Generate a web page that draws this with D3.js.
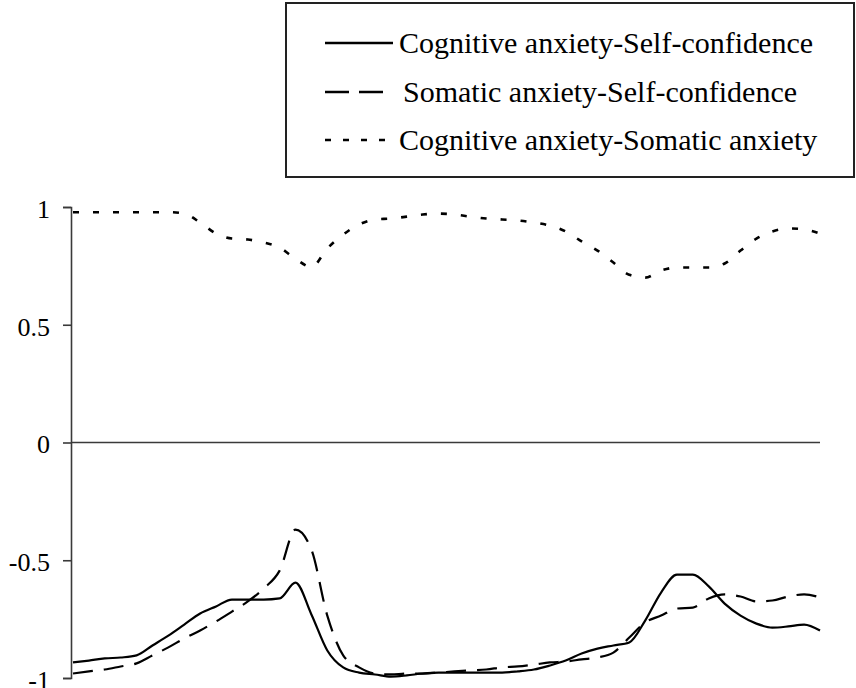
<!DOCTYPE html>
<html>
<head>
<meta charset="utf-8">
<script src="https://cdn.jsdelivr.net/npm/d3@7"></script>
<style>
  html, body { margin: 0; padding: 0; background: #fff; }
  svg { display: block; }
  svg text { font-family: "Liberation Serif", "Times New Roman", Tinos, "DejaVu Serif", serif; }
</style>
</head>
<body>
<svg id="chart" width="856" height="688"></svg>
<script>
// ---------- data ----------
const seriesNames = [
  "Cognitive anxiety-Self-confidence",
  "Somatic anxiety-Self-confidence",
  "Cognitive anxiety-Somatic anxiety"
];
const yTicks = [-1, -0.5, 0, 0.5, 1];
const yTickLabels = ["-1", "-0.5", "0", "0.5", "1"];

const cogSelf = [
  -0.934, -0.926, -0.917, -0.913, -0.904, -0.862, -0.820, -0.773, -0.726, -0.696,
  -0.667, -0.667, -0.667, -0.662, -0.595, -0.730, -0.883, -0.955, -0.977, -0.985,
  -0.994, -0.989, -0.981, -0.977, -0.977, -0.977, -0.977, -0.977, -0.972, -0.964,
  -0.947, -0.926, -0.896, -0.875, -0.862, -0.849, -0.756, -0.637, -0.561, -0.561,
  -0.611, -0.684, -0.735, -0.769, -0.786, -0.781, -0.773, -0.798
];
const somSelf = [
  -0.981, -0.972, -0.964, -0.951, -0.938, -0.904, -0.870, -0.832, -0.798, -0.760,
  -0.718, -0.675, -0.620, -0.544, -0.370, -0.455, -0.735, -0.904, -0.955, -0.981,
  -0.985, -0.981, -0.981, -0.977, -0.972, -0.968, -0.964, -0.955, -0.951, -0.943,
  -0.934, -0.930, -0.921, -0.913, -0.892, -0.828, -0.764, -0.735, -0.705, -0.701,
  -0.662, -0.645, -0.654, -0.675, -0.671, -0.654, -0.645, -0.658
];
const cogSom = [
  0.978, 0.978, 0.978, 0.978, 0.978, 0.978, 0.978, 0.972, 0.934, 0.887,
  0.866, 0.862, 0.849, 0.828, 0.780, 0.745, 0.824, 0.883, 0.926, 0.947,
  0.951, 0.959, 0.968, 0.972, 0.968, 0.959, 0.951, 0.947, 0.943, 0.934,
  0.921, 0.896, 0.854, 0.815, 0.764, 0.712, 0.700, 0.730, 0.743, 0.743,
  0.743, 0.760, 0.815, 0.866, 0.896, 0.909, 0.905, 0.887
];

// ---------- layout ----------
const svg = d3.select("#chart");
const plot = { left: 71, right: 820, top: 207, bottom: 678 };
const serif = '"Liberation Serif", "Times New Roman", Tinos, "DejaVu Serif", serif';

const x = d3.scaleLinear().domain([0, cogSelf.length - 1]).range([plot.left + 2, plot.right]);
const y = d3.scaleLinear().domain([-1, 1]).range([plot.bottom, plot.top]);

// zero line
svg.append("line")
  .attr("x1", plot.left).attr("x2", plot.right)
  .attr("y1", y(0)).attr("y2", y(0))
  .attr("stroke", "#3a3a3a").attr("stroke-width", 1.6);

// y axis
const yAxis = d3.axisLeft(y)
  .tickValues(yTicks)
  .tickFormat((d, i) => yTickLabels[i])
  .tickSize(8)
  .tickPadding(13);
const gy = svg.append("g")
  .attr("transform", `translate(${plot.left},0)`)
  .call(yAxis);
gy.attr("font-family", null);
gy.select(".domain").attr("stroke", "#3a3a3a").attr("stroke-width", 1.6);
gy.selectAll(".tick line").attr("stroke", "#3a3a3a").attr("stroke-width", 1.6);
gy.selectAll(".tick text")
  .style("font-family", serif)
  .style("font-size", "26px")
  .attr("fill", "#000")
  .attr("dy", "0.4em");

// lines
const line = d3.line()
  .x((d, i) => x(i))
  .y(d => y(d))
  .curve(d3.curveMonotoneX);

const styles = [
  { data: cogSelf, dash: null, width: 2.2 },
  { data: somSelf, dash: "20,11", width: 2.2 },
  { data: cogSom, dash: "6,14", width: 2.6 }
];

styles.forEach(s => {
  svg.append("path")
    .datum(s.data)
    .attr("d", line)
    .attr("fill", "none")
    .attr("stroke", "#000")
    .attr("stroke-width", s.width)
    .attr("stroke-dasharray", s.dash);
});

// legend
const lg = svg.append("g");
lg.append("rect")
  .attr("x", 286).attr("y", 3)
  .attr("width", 568).attr("height", 174)
  .attr("fill", "#fff")
  .attr("stroke", "#222").attr("stroke-width", 2);

const legendItems = [
  { name: seriesNames[0], dash: null, width: 2.4, y: 43, tx: 399, x2: 393 },
  { name: seriesNames[1], dash: "24,10", width: 2.6, y: 92, tx: 403, x2: 383 },
  { name: seriesNames[2], dash: "6,12", width: 2.6, y: 140, tx: 399, x2: 393 }
];
legendItems.forEach(it => {
  lg.append("line")
    .attr("x1", 325).attr("x2", it.x2)
    .attr("y1", it.y).attr("y2", it.y)
    .attr("stroke", "#000")
    .attr("stroke-width", it.width)
    .attr("stroke-dasharray", it.dash);
  lg.append("text")
    .attr("x", it.tx).attr("y", it.y)
    .attr("dy", "0.33em")
    .style("font-family", serif)
    .style("font-size", "30px")
    .attr("fill", "#000")
    .text(it.name);
});
</script>
</body>
</html>
